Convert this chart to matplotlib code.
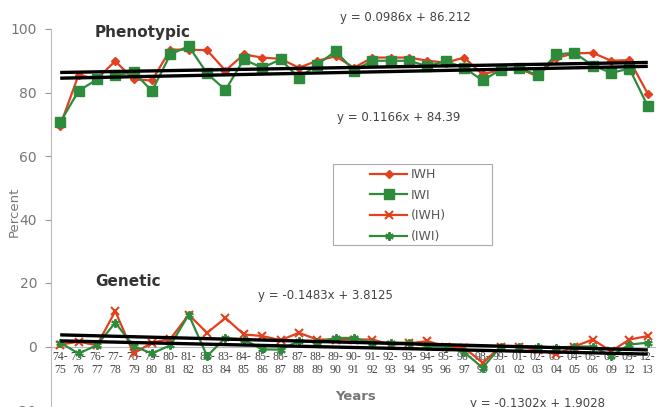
import matplotlib
matplotlib.use("Agg")
import matplotlib.pyplot as plt
from matplotlib.patches import Rectangle
import numpy as np

# ---- data ----
top_years = ["74", "75", "76", "77", "78", "79", "80", "81", "82", "83", "84",
             "85", "86", "87", "88", "89", "90", "91", "92", "93", "94", "95",
             "96", "98", "99", "01", "02", "03", "04", "05", "08", "09", "12"]
bottom_years = ["75", "76", "77", "78", "79", "80", "81", "82", "83", "84", "85",
                "86", "87", "88", "89", "90", "91", "92", "93", "94", "95", "96",
                "97", "99", "01", "02", "03", "04", "05", "06", "09", "12", "13"]

pheno_iwh = [69.6, 85.5, 84.3, 89.9, 84.1, 83.8, 93.5, 93.5, 93.3, 86.9, 92.0,
             91.0, 90.6, 87.8, 90.0, 91.4, 87.8, 91.0, 91.0, 91.0, 90.0, 89.4,
             91.0, 85.7, 87.2, 87.5, 85.1, 90.9, 92.3, 92.5, 90.0, 90.2, 79.6]
pheno_iwi = [70.6, 80.5, 84.1, 85.4, 86.4, 80.5, 92.0, 94.6, 86.0, 80.8, 90.4,
             87.8, 90.4, 84.6, 88.8, 93.0, 86.9, 90.0, 90.0, 90.0, 88.3, 89.9,
             87.8, 83.8, 87.2, 87.8, 85.4, 92.0, 92.5, 88.5, 86.2, 87.5, 75.7]
gen_iwh = [0.6, 1.5, 0.4, 11.1, -2.2, 1.2, 2.4, 10.0, 4.3, 9.0, 3.8,
           3.3, 2.0, 4.3, 2.2, 2.2, 2.2, 2.2, 0.6, 1.0, 1.7, 0.0,
           -0.4, -5.1, 0.0, 0.0, -1.0, -2.5, 0.0, 2.2, -1.5, 2.2, 3.3]
gen_iwi = [1.2, -2.2, 0.4, 7.5, 0.1, -2.2, 0.4, 10.0, -3.0, 2.7, 2.2,
           -0.9, -1.0, 1.7, 1.4, 2.7, 2.7, 1.2, 1.2, 1.2, 0.1, 0.0,
           -1.8, -6.7, 0.0, 0.0, 0.0, -0.4, 0.0, 0.0, -3.0, 0.6, 1.2]

# trendline coefficients (slope, intercept), x = 1..n
trend_slopes = [0.0986, 0.1166, -0.1483, -0.1302]
trend_intercepts = [86.212, 84.39, 3.8125, 1.9028]
trend_labels = ["y = 0.0986x + 86.212", "y = 0.1166x + 84.39",
                "y = -0.1483x + 3.8125", "y = -0.1302x + 1.9028"]

series_names = ["IWH", "IWI", "(IWH)", "(IWI)"]
y_ticks = [-20, 0, 20, 40, 60, 80, 100]

# ---- figure ----
W, H = 656, 407
fig = plt.figure(figsize=(W / 100, H / 100), dpi=100)
fig.patch.set_facecolor("white")

top_px, bot_px = 29, 410
left_px, right_px = 51, 657
ax = fig.add_axes([left_px / W, 1 - bot_px / H, (right_px - left_px) / W,
                   (bot_px - top_px) / H])
ax.set_facecolor("white")

n = len(pheno_iwh)
x = np.arange(n)
red = "#e2401e"
green = "#2e8b3c"

ax.axhline(0, color="#bbbbbb", lw=0.8, zorder=1)

ax.plot(x, pheno_iwh, color=red, lw=1.6, marker="D", ms=4.5, mec=red, mfc=red,
        label=series_names[0], zorder=3)
ax.plot(x, pheno_iwi, color=green, lw=1.6, marker="s", ms=6.5, mec=green, mfc=green,
        label=series_names[1], zorder=3)
ax.plot(x, gen_iwh, color=red, lw=1.6, marker="x", ms=6, mew=1.5,
        label=series_names[2], zorder=3)
ax.plot(x, gen_iwi, color=green, lw=1.6, marker=(6, 2, 0), ms=6, mew=1.5,
        label=series_names[3], zorder=3)

xt = np.array([0, n - 1])
for s, b in zip(trend_slopes, trend_intercepts):
    ax.plot(xt, s * (xt + 1) + b, color="black", lw=2.4, zorder=4,
            solid_capstyle="butt")

ax.set_xlim(-0.5, n - 0.5)
ax.set_ylim(-20, 100)
ax.set_yticks(y_ticks)
ax.tick_params(axis="y", colors="#999999", labelcolor="#777777", labelsize=10,
               length=4, width=0.8, direction="out", pad=6)
ax.set_xticks([])
for sp in ["top", "right", "bottom"]:
    ax.spines[sp].set_visible(False)
ax.spines["left"].set_color("#bbbbbb")
ax.spines["left"].set_linewidth(0.8)

# category labels under the zero line
for i in range(n):
    ax.annotate(top_years[i] + "-\n" + bottom_years[i], xy=(i, 0),
                xytext=(0, -3), textcoords="offset points",
                ha="center", va="top", fontsize=8.5, family="Liberation Serif",
                color="#444444", linespacing=1.1, zorder=2)

fig.text(14 / W, 1 - 212 / H, "Percent", rotation=90, ha="center", va="center",
         fontsize=9.5, color="#777777")
fig.text(356 / W, 1 - 397 / H, "Years", ha="center", va="center",
         fontsize=9.5, color="#777777", fontweight="bold")

fig.text(95 / W, 1 - 33 / H, "Phenotypic", ha="left", va="center",
         fontsize=11, fontweight="bold", color="#333333")
fig.text(95 / W, 1 - 282 / H, "Genetic", ha="left", va="center",
         fontsize=11, fontweight="bold", color="#333333")

eq_pos = [(340, 18), (337, 118), (258, 295), (470, 403)]
for (px, py), t in zip(eq_pos, trend_labels):
    fig.text(px / W, 1 - py / H, t, ha="left", va="center", fontsize=8.5,
             color="#444444")

# legend box (frame drawn separately to match the wide Excel legend)
box = Rectangle((333 / W, 1 - 245 / H), (492 - 333) / W, (245 - 164) / H,
                transform=fig.transFigure, facecolor="white",
                edgecolor="#aaaaaa", lw=0.8, zorder=5, clip_on=False)
ax.add_patch(box)
leg = ax.legend(loc="upper left", bbox_to_anchor=(370 / W, 1 - 168 / H),
                bbox_transform=fig.transFigure, fontsize=9, frameon=False,
                handlelength=3.0, handletextpad=0.25, borderpad=0,
                borderaxespad=0, labelspacing=0.62)
leg.set_zorder(6)
for t in leg.get_texts():
    t.set_color("#555555")

fig.savefig("out.png", dpi=100, facecolor="white")
